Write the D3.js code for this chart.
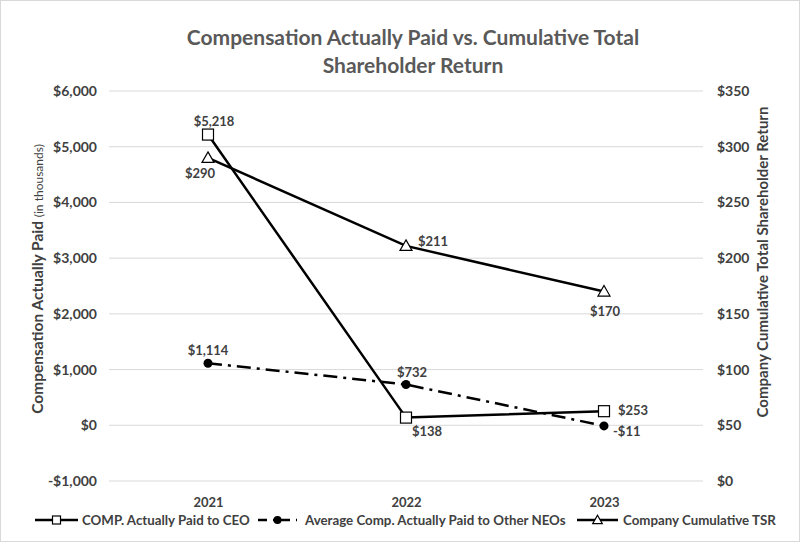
<!DOCTYPE html>
<html><head><meta charset="utf-8">
<script src="https://cdn.jsdelivr.net/npm/d3@7"></script>
<style>
body{margin:0;background:#fff;}
svg{display:block;font-family:Lato, "Open Sans", sans-serif;}
</style></head>
<body>
<svg id="c" width="800" height="542"></svg>
<script>
const years = ["2021","2022","2023"];
const ceoComp = [5218, 138, 253];
const neoComp = [1114, 732, -11];
const tsr = [290, 211, 170];
const leftTicks = [-1000,0,1000,2000,3000,4000,5000,6000];
const rightTicks = [0,50,100,150,200,250,300,350];
const seriesNames = ["COMP. Actually Paid to CEO","Average Comp. Actually Paid to Other NEOs","Company Cumulative TSR"];

const svg = d3.select("#c");
svg.append("rect").attr("x",0.5).attr("y",0.5).attr("width",799).attr("height",541)
  .attr("fill","#fff").attr("stroke","#d9d9d9");

const x = d3.scalePoint().domain(years).range([208,604]);
const yL = d3.scaleLinear().domain([-1000,6000]).range([481,91]);
const yR = d3.scaleLinear().domain([0,350]).range([481,91]);
const textCol = "#404040";

// gridlines
svg.append("g").selectAll("line").data(leftTicks).join("line")
  .attr("x1",109).attr("x2",703).attr("y1",d=>yL(d)).attr("y2",d=>yL(d))
  .attr("stroke","#d9d9d9").attr("stroke-width",1);

// axes
const fmtL = d=> (d<0?"-$":"$")+d3.format(",")(Math.abs(d));
const gL = svg.append("g").attr("transform","translate(109,0)")
  .call(d3.axisLeft(yL).tickValues(leftTicks).tickFormat(fmtL).tickSize(0).tickPadding(12));
gL.select(".domain").remove();
gL.selectAll("text").attr("font-size",14).attr("font-weight","bold").attr("fill",textCol).attr("font-family","Lato");

const gR = svg.append("g").attr("transform","translate(703,0)")
  .call(d3.axisRight(yR).tickValues(rightTicks).tickFormat(d=>"$"+d).tickSize(0).tickPadding(14));
gR.select(".domain").remove();
gR.selectAll("text").attr("font-size",14).attr("font-weight","bold").attr("fill",textCol).attr("font-family","Lato");

const gX = svg.append("g").attr("transform","translate(0,481)")
  .call(d3.axisBottom(x).tickSize(0).tickPadding(17));
gX.select(".domain").remove();
gX.selectAll("text").attr("font-size",13).attr("font-weight","bold").attr("fill",textCol).attr("font-family","Lato");

// title
const title = svg.append("text").attr("text-anchor","middle").attr("fill","#595959")
  .attr("font-size",21).attr("font-weight","bold");
title.append("tspan").attr("x",413).attr("y",45).text("Compensation Actually Paid vs. Cumulative Total");
title.append("tspan").attr("x",413).attr("y",73).text("Shareholder Return");

// axis titles
const lt = svg.append("text").attr("transform","translate(43,279) rotate(-90)")
  .attr("text-anchor","middle").attr("fill",textCol).attr("font-size",15.5).attr("font-weight","bold");
lt.append("tspan").text("Compensation Actually Paid ");
lt.append("tspan").attr("font-size",12).attr("font-weight","normal").text("(in thousands)");
svg.append("text").attr("transform","translate(768,262) rotate(-90)")
  .attr("text-anchor","middle").attr("fill",textCol).attr("font-size",15).attr("font-weight","bold")
  .text("Company Cumulative Total Shareholder Return");

// lines
const lineL = d3.line().x((d,i)=>x(years[i])).y(d=>yL(d));
const lineR = d3.line().x((d,i)=>x(years[i])).y(d=>yR(d));
svg.append("path").attr("d",lineL(ceoComp)).attr("fill","none").attr("stroke","#000").attr("stroke-width",2.5);
svg.append("path").attr("d",lineL(neoComp)).attr("fill","none").attr("stroke","#000").attr("stroke-width",2.5)
  .attr("stroke-dasharray","14,6,3,6");
svg.append("path").attr("d",lineR(tsr)).attr("fill","none").attr("stroke","#000").attr("stroke-width",2.5);

// markers
function square(g,cx,cy,s){s=s||11;g.append("rect").attr("x",cx-s/2).attr("y",cy-s/2).attr("width",s).attr("height",s).attr("fill","#fff").attr("stroke","#000").attr("stroke-width",1.2);}
function circle(g,cx,cy,r){g.append("circle").attr("cx",cx).attr("cy",cy).attr("r",r||4.5).attr("fill","#000");}
function tri(g,cx,cy,s){s=s||1;g.append("path").attr("d",`M${cx},${cy-6*s}L${cx+6*s},${cy+4.5*s}L${cx-6*s},${cy+4.5*s}Z`).attr("fill","#fff").attr("stroke","#000").attr("stroke-width",1.2);}
const mk = svg.append("g");
ceoComp.forEach((d,i)=>square(mk,x(years[i]),yL(d)));
neoComp.forEach((d,i)=>circle(mk,x(years[i]),yL(d)));
tsr.forEach((d,i)=>tri(mk,x(years[i]),yR(d)));

// data labels
const fmt = d=> (d<0?"-$":"$")+d3.format(",")(Math.abs(d));
const lbl = svg.append("g").attr("font-size",13).attr("font-weight","bold").attr("fill",textCol);
function label(t,xx,yy,anchor){lbl.append("text").attr("x",xx).attr("y",yy).attr("text-anchor",anchor||"middle").text(t);}
const ceoOff = [[6,-9,"middle"],[21,18,"middle"],[14,4,"start"]];
const neoOff = [[0,-8,"middle"],[6,-8,"middle"],[9,10,"start"]];
const tsrOff = [[-8,20,"middle"],[12,0,"start"],[1,24,"middle"]];
ceoComp.forEach((d,i)=>label(fmt(d),x(years[i])+ceoOff[i][0],yL(d)+ceoOff[i][1],ceoOff[i][2]));
neoComp.forEach((d,i)=>label(fmt(d),x(years[i])+neoOff[i][0],yL(d)+neoOff[i][1],neoOff[i][2]));
tsr.forEach((d,i)=>label(fmt(d),x(years[i])+tsrOff[i][0],yR(d)+tsrOff[i][1],tsrOff[i][2]));

// legend
const lg = svg.append("g").attr("font-size",13.3).attr("font-weight","bold").attr("fill",textCol);
const legY = 520;
const legItems = [{x0:35,x1:78,tx:82,type:"sq",dash:null},{x0:258,x1:297,tx:305,type:"ci",dash:"9,6,2,6"},{x0:577,x1:618,tx:623,type:"tr",dash:null}];
legItems.forEach((it,i)=>{
  lg.append("line").attr("x1",it.x0).attr("x2",it.x1).attr("y1",legY).attr("y2",legY)
    .attr("stroke","#000").attr("stroke-width",2.5).attr("stroke-dasharray",it.dash);
  const cx = (it.x0+it.x1)/2;
  if(it.type==="sq") square(lg,cx,legY,8);
  if(it.type==="ci") circle(lg,cx,legY,4);
  if(it.type==="tr") tri(lg,cx,legY,0.8);
  lg.append("text").attr("x",it.tx).attr("y",legY+4.5).text(seriesNames[i]);
});
</script>
</body></html>
